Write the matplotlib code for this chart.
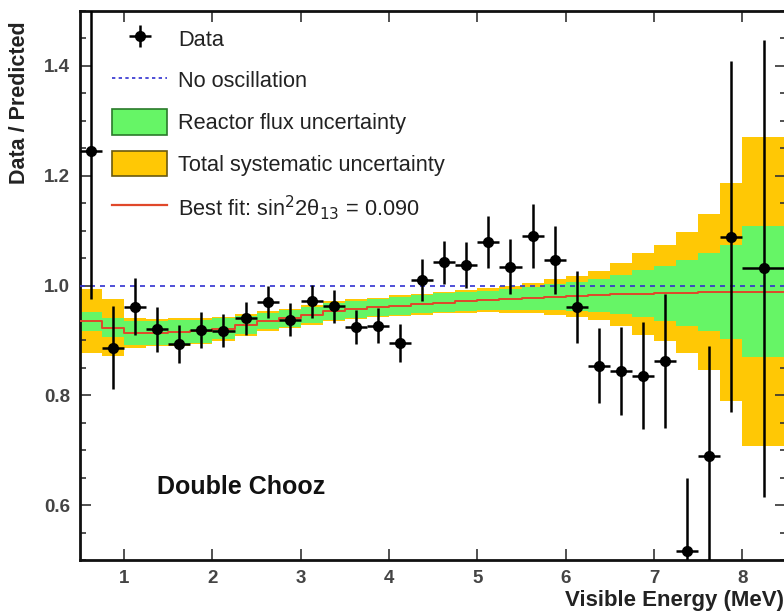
import numpy as np
import matplotlib
matplotlib.use("Agg")
import matplotlib.pyplot as plt
from matplotlib.patches import Patch
from matplotlib.lines import Line2D

plt.rcParams['font.family'] = ['Liberation Sans', 'DejaVu Sans']

# ---- data ----
bin_low = [0.5, 0.75, 1.0, 1.25, 1.5, 1.75, 2.0, 2.25, 2.5, 2.75, 3.0, 3.25, 3.5, 3.75,
           4.0, 4.25, 4.5, 4.75, 5.0, 5.25, 5.5, 5.75, 6.0, 6.25, 6.5, 6.75, 7.0, 7.25,
           7.5, 7.75, 8.0]
bin_high_last = 8.5

data_ratio = [1.245, 0.887, 0.961, 0.920, 0.893, 0.919, 0.918, 0.940, 0.970, 0.938,
              0.971, 0.962, 0.925, 0.927, 0.895, 1.010, 1.042, 1.038, 1.079, 1.034,
              1.090, 1.047, 0.961, 0.854, 0.845, 0.836, 0.862, 0.517, 0.689, 1.089, 1.031]
data_err = [0.27, 0.076, 0.052, 0.041, 0.035, 0.033, 0.030, 0.030, 0.029, 0.030,
            0.030, 0.030, 0.031, 0.032, 0.034, 0.038, 0.039, 0.042, 0.047, 0.050,
            0.058, 0.062, 0.065, 0.068, 0.080, 0.097, 0.122, 0.133, 0.200, 0.320, 0.417]

best_fit = [0.935, 0.923, 0.914, 0.914, 0.915, 0.917, 0.921, 0.928, 0.935, 0.940,
            0.946, 0.953, 0.957, 0.960, 0.963, 0.966, 0.969, 0.971, 0.973, 0.975,
            0.977, 0.979, 0.980, 0.982, 0.984, 0.985, 0.986, 0.987, 0.988, 0.988, 0.989]
flux_unc = [0.017, 0.017, 0.022, 0.022, 0.022, 0.021, 0.019, 0.017, 0.015, 0.015,
            0.015, 0.015, 0.0155, 0.0155, 0.016, 0.016, 0.017, 0.017, 0.017, 0.019,
            0.021, 0.023, 0.0265, 0.030, 0.036, 0.0425, 0.050, 0.060, 0.071, 0.085, 0.120]
total_unc = [0.058, 0.052, 0.027, 0.025, 0.025, 0.024, 0.022, 0.020, 0.018, 0.018,
             0.018, 0.018, 0.018, 0.018, 0.019, 0.019, 0.020, 0.021, 0.022, 0.025,
             0.028, 0.032, 0.038, 0.045, 0.057, 0.075, 0.088, 0.110, 0.142, 0.198, 0.282]

no_osc = 1.0
y_ticks = [0.6, 0.8, 1.0, 1.2, 1.4]
x_ticks = [1, 2, 3, 4, 5, 6, 7, 8]

# ---- derived ----
edges = np.array(bin_low + [bin_high_last])
centers = 0.5 * (edges[:-1] + edges[1:])
xerr = 0.5 * (edges[1:] - edges[:-1])
bf = np.array(best_fit)
fu = np.array(flux_unc)
tu = np.array(total_unc)

def stepv(v):
    return np.append(v, v[-1])

GREEN = '#66f566'
ORANGE = '#ffc805'
RED = '#e0482a'
BLUE = '#3030d0'

fig = plt.figure(figsize=(7.84, 6.11), dpi=100)
ax = fig.add_axes([80 / 784, 51 / 611, 706.4 / 784, 549 / 611])

ax.fill_between(edges, stepv(bf - tu), stepv(bf + tu), step='post', color=ORANGE, lw=0, zorder=1)
ax.fill_between(edges, stepv(bf - fu), stepv(bf + fu), step='post', color=GREEN, lw=0, zorder=2)
ax.step(edges, stepv(bf), where='post', color=RED, lw=1.4, zorder=3)
ax.axhline(no_osc, color=BLUE, lw=1.2, ls=(0, (3, 3)), zorder=4)

eb = ax.errorbar(centers, data_ratio, yerr=data_err, xerr=xerr, fmt='o', color='black',
                 ms=7, elinewidth=1.8, capsize=0, zorder=5)

ax.set_xlim(0.5, 8.5)
ax.set_ylim(0.5, 1.5)
ax.set_xticks(x_ticks)
ax.set_yticks(y_ticks)
ax.set_yticks(np.arange(0.5, 1.501, 0.05), minor=True)
ax.set_yticklabels([f'{v:.1f}' for v in y_ticks])
ax.tick_params(which='both', direction='in', top=True, right=True, width=1.2, colors='#333333',
               labelcolor='#444444')
ax.tick_params(which='major', length=8, labelsize=13.5, pad=7)
ax.tick_params(which='minor', length=4)
for lab in ax.get_xticklabels() + ax.get_yticklabels():
    lab.set_fontweight('bold')
for s in ax.spines.values():
    s.set_linewidth(2)
    s.set_color('#111111')

ax.set_ylabel('Data / Predicted', fontsize=15.5, fontweight='bold', color='#222222')
ax.set_xlabel('Visible Energy (MeV)', fontsize=16, fontweight='bold', color='#222222',
              ha='right', va='top')
ax.xaxis.set_label_coords((784 - 80) / 706.4, -0.054)
ax.yaxis.set_label_coords(-0.071, 0.833)

fig.text(157 / 784, 1 - 487 / 611, 'Double Chooz', fontsize=18, fontweight='bold',
         va='center', ha='left', color='#111111')

handles = [
    eb,
    Line2D([], [], color=BLUE, lw=1.2, ls=(0, (2, 2))),
    Patch(facecolor=GREEN, edgecolor='#2a7a2a', lw=1.2),
    Patch(facecolor=ORANGE, edgecolor='#6a5a10', lw=1.2),
    Line2D([], [], color=RED, lw=1.6),
]
labels = ['Data', 'No oscillation', 'Reactor flux uncertainty', 'Total systematic uncertainty',
          'Best fit: sin$^{2}$2θ$_{13}$ = 0.090']
leg = ax.legend(handles, labels, loc='upper left', bbox_to_anchor=(0.046, 0.973), frameon=False,
                fontsize=15.7, handlelength=2.5, handleheight=1.4, labelspacing=0.76,
                handletextpad=0.52, borderpad=0, borderaxespad=0)
for t in leg.get_texts():
    t.set_color('#222222')

fig.savefig('out.png', dpi=100)
